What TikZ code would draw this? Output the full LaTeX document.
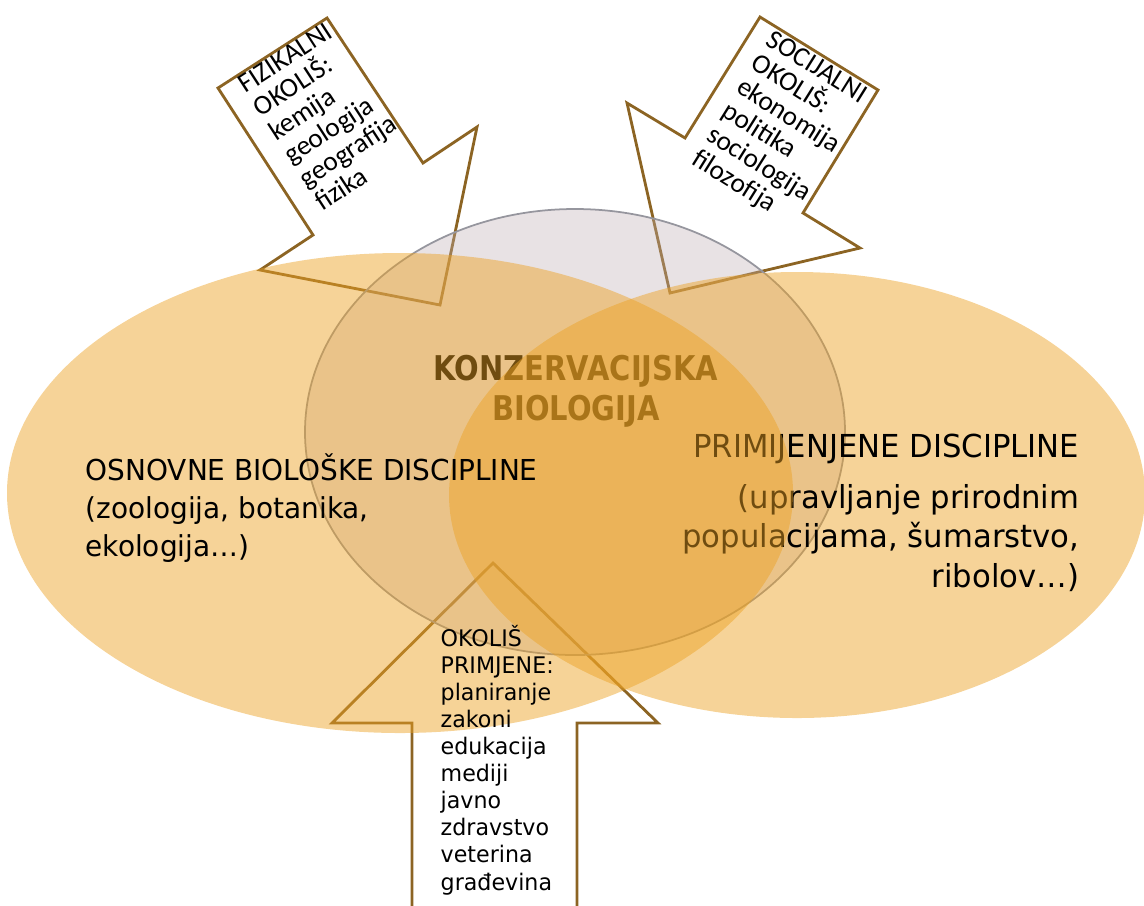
\documentclass[tikz,border=0pt]{standalone}
\usepackage{fontspec}
\setmainfont[FakeStretch=0.97]{DejaVu Sans}
\newfontfamily\titlefont[FakeStretch=0.85]{DejaVu Sans}
\newfontfamily\calib{Carlito}
\definecolor{vennorange}{RGB}{236,162,36}
\definecolor{vennmauve}{RGB}{190,172,178}
\definecolor{vennline}{RGB}{150,150,158}
\definecolor{arrowbrown}{RGB}{140,100,35}
\tikzset{
  arrowshape/.style={draw=arrowbrown, line width=0.8pt, fill=white, line join=miter},
  disc/.style={fill=vennorange, fill opacity=.47},
  arrowtext/.style={inner sep=0pt, align=left, font=\calib\fontsize{7.8}{8.0}\selectfont},
}
\begin{document}
\begin{tikzpicture}
			\clip (0,0) rectangle (11.44,9.05);
			\draw[arrowshape] (2.18,8.17) -- (3.27,8.87) -- (4.23,7.42) -- (4.77,7.78) -- (4.40,6.00) -- (2.60,6.35) -- (3.13,6.70) -- cycle;
			\draw[arrowshape] (7.60,8.88) -- (8.78,8.15) -- (8.03,6.92) -- (8.60,6.57) -- (6.70,6.12) -- (6.27,8.02) -- (6.85,7.67) -- cycle;
			\draw[arrowshape] (4.93,3.42) -- (6.58,1.82) -- (5.77,1.82) -- (5.77,-0.1) -- (4.12,-0.1) -- (4.12,1.82) -- (3.32,1.82) -- cycle;
			\node[arrowtext, rotate=33, anchor=north west] (FO) at (2.35,8.26) {FIZIKALNI\\OKOLIŠ:\\kemija\\geologija\\geografija\\fizika};
			\node[arrowtext, rotate=-32, anchor=north west] (SO) at (7.74,8.77) {SOCIJALNI\\OKOLIŠ:\\ekonomija\\politika\\sociologija\\filozofija};
			\draw[draw=vennline, line width=0.5pt, fill=vennmauve, fill opacity=.35] (5.75,4.73) ellipse [x radius=2.70, y radius=2.23];
			\node[inner sep=0pt, align=center, font=\titlefont\bfseries\fontsize{9.7}{11.4}\selectfont] (KB) at (5.76,5.14) {KONZERVACIJSKA\\BIOLOGIJA};
			\fill[disc] (7.97,4.10) ellipse [x radius=3.48, y radius=2.23];
			\node[inner sep=0pt, align=right, anchor=east, font=\fontsize{9}{11.3}\selectfont] (PD) at (10.80,3.92) {PRIMIJENJENE DISCIPLINE\\[3pt](upravljanje prirodnim\\populacijama, šumarstvo,\\ribolov…)};
			\fill[disc] (4.00,4.12) ellipse [x radius=3.93, y radius=2.40];
			\node[inner sep=0pt, align=left, anchor=west, font=\fontsize{8.2}{10.8}\selectfont] (OD) at (0.85,3.97) {OSNOVNE BIOLOŠKE DISCIPLINE\\(zoologija, botanika,\\ekologija…)};
			\node[inner sep=0pt, align=left, anchor=west, font=\fontsize{6.5}{7.7}\selectfont] (OP) at (4.40,1.45) {OKOLIŠ\\PRIMJENE:\\planiranje\\zakoni\\edukacija\\mediji\\javno\\zdravstvo\\veterina\\građevina};
\end{tikzpicture}
\end{document}
